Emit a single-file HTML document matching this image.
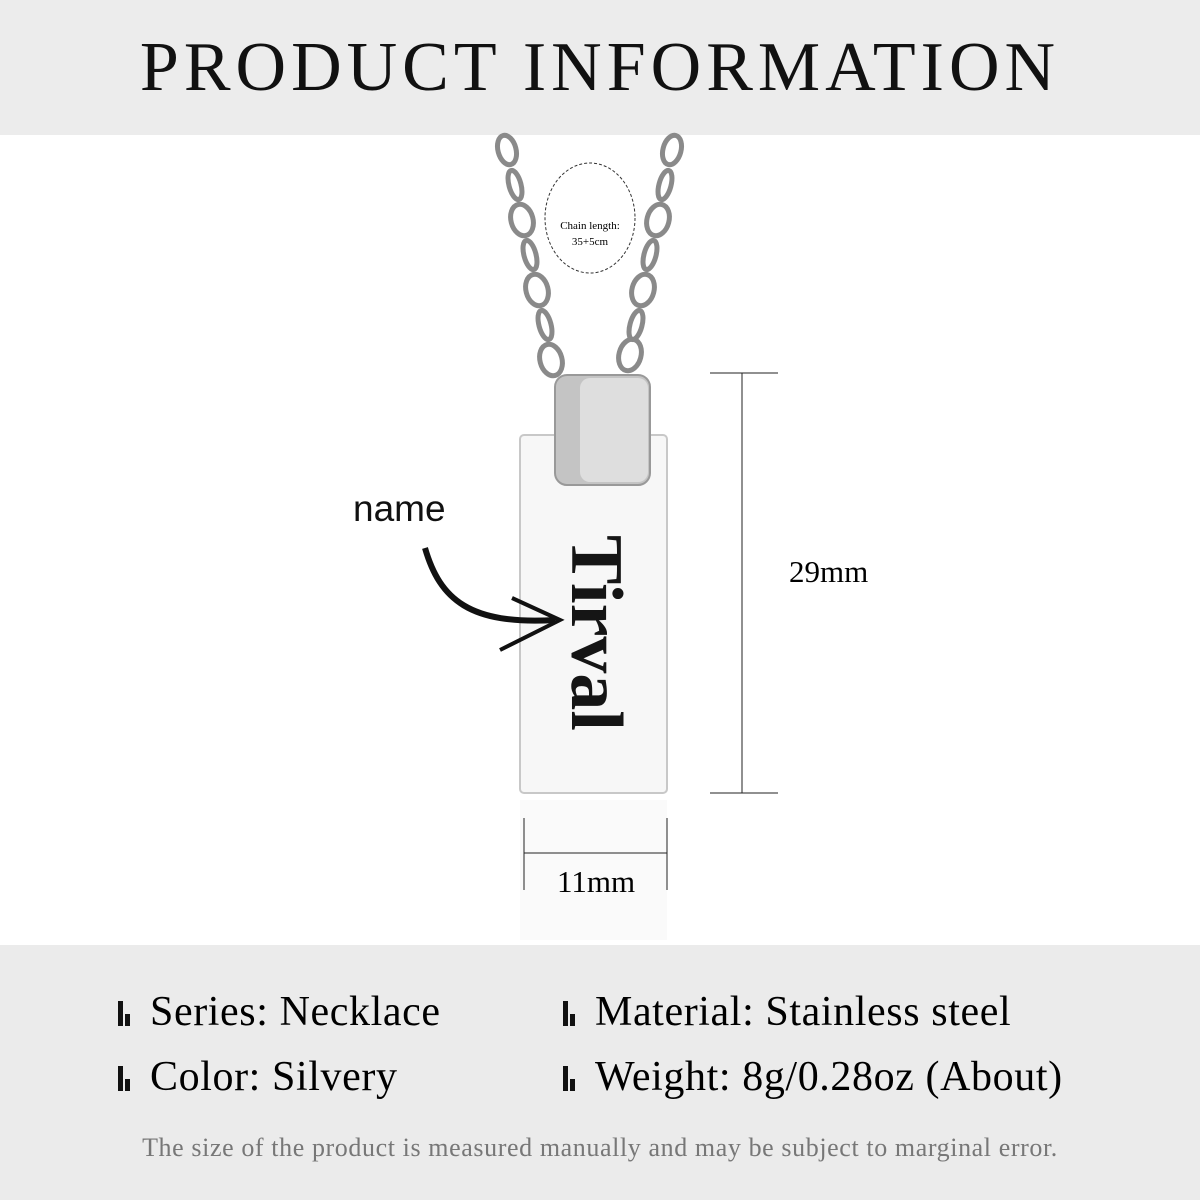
<!DOCTYPE html>
<html><head><style>
body{margin:0;width:1200px;height:1200px;background:#fff;position:relative;overflow:hidden;font-family:"Liberation Serif",serif;}
.t{position:absolute;white-space:nowrap;}
</style></head><body>
<div style="position:absolute;left:0;top:0;width:1200px;height:135px;background:#ececec"></div>
<div class="t" style="left:0;width:1200px;text-align:center;top:28px;font-size:70px;letter-spacing:5px;color:#111">PRODUCT INFORMATION</div>
<div style="position:absolute;left:0;top:945px;width:1200px;height:255px;background:#ebebeb"></div>
<svg width="1200" height="1200" style="position:absolute;left:0;top:0">
<g fill="none" stroke="#8a8a8a" stroke-width="5">
<ellipse cx="507" cy="150" rx="9" ry="15" transform="rotate(-15 507 150)"/>
<ellipse cx="515" cy="185" rx="6" ry="15" transform="rotate(-15 515 185)"/>
<ellipse cx="522" cy="220" rx="11" ry="16" transform="rotate(-15 522 220)"/>
<ellipse cx="530" cy="255" rx="6" ry="15" transform="rotate(-15 530 255)"/>
<ellipse cx="537" cy="290" rx="11" ry="16" transform="rotate(-15 537 290)"/>
<ellipse cx="545" cy="325" rx="6" ry="15" transform="rotate(-15 545 325)"/>
<ellipse cx="551" cy="360" rx="11" ry="16" transform="rotate(-15 551 360)"/>
<ellipse cx="672" cy="150" rx="9" ry="15" transform="rotate(15 672 150)"/>
<ellipse cx="665" cy="185" rx="6" ry="15" transform="rotate(15 665 185)"/>
<ellipse cx="658" cy="220" rx="11" ry="16" transform="rotate(15 658 220)"/>
<ellipse cx="650" cy="255" rx="6" ry="15" transform="rotate(15 650 255)"/>
<ellipse cx="643" cy="290" rx="11" ry="16" transform="rotate(15 643 290)"/>
<ellipse cx="636" cy="325" rx="6" ry="15" transform="rotate(15 636 325)"/>
<ellipse cx="630" cy="355" rx="11" ry="16" transform="rotate(15 630 355)"/>
</g>
<ellipse cx="590" cy="218" rx="45" ry="55" fill="#fff" stroke="#333" stroke-dasharray="3 2"/>
<text x="590" y="229" font-size="11" text-anchor="middle" font-family="Liberation Serif">Chain length:</text>
<text x="590" y="245" font-size="11" text-anchor="middle" font-family="Liberation Serif">35+5cm</text>
<rect x="520" y="435" width="147" height="358" rx="4" fill="#f7f7f7" stroke="#c8c8c8" stroke-width="2"/>
<rect x="555" y="375" width="95" height="110" rx="12" fill="#c4c4c4" stroke="#999" stroke-width="2"/>
<rect x="580" y="378" width="68" height="104" rx="10" fill="#dedede"/>
<text transform="translate(572,535) rotate(90)" font-size="74" font-weight="bold" font-family="Liberation Serif" fill="#151515">Tirval</text>
<rect x="520" y="800" width="147" height="140" fill="#fafafa"/>
<g stroke="#222" stroke-width="1">
<line x1="742" y1="373" x2="742" y2="793"/>
<line x1="710" y1="373" x2="778" y2="373"/>
<line x1="710" y1="793" x2="778" y2="793"/>
<line x1="524" y1="818" x2="524" y2="890"/>
<line x1="667" y1="818" x2="667" y2="890"/>
<line x1="524" y1="853" x2="667" y2="853"/>
</g>
<path d="M425 548 C440 600 470 625 555 620" fill="none" stroke="#111" stroke-width="6"/>
<path d="M512 598 L560 620 L500 650" fill="none" stroke="#111" stroke-width="4"/>
<g fill="#111">
<rect x="118" y="1001" width="5" height="25"/><rect x="125" y="1014" width="5" height="12"/>
<rect x="118" y="1066" width="5" height="25"/><rect x="125" y="1079" width="5" height="12"/>
<rect x="563" y="1001" width="5" height="25"/><rect x="570" y="1014" width="5" height="12"/>
<rect x="563" y="1066" width="5" height="25"/><rect x="570" y="1079" width="5" height="12"/>
</g>
</svg>
<div class="t" style="left:353px;top:488px;font-family:'Liberation Sans',sans-serif;font-size:37px;color:#111">name</div>
<div class="t" style="left:789px;top:554px;font-size:31px">29mm</div>
<div class="t" style="left:557px;top:864px;font-size:31px">11mm</div>
<div class="t" style="left:150px;top:988px;font-size:42px;letter-spacing:0.6px">Series: Necklace</div>
<div class="t" style="left:150px;top:1053px;font-size:42px;letter-spacing:0.6px">Color: Silvery</div>
<div class="t" style="left:595px;top:988px;font-size:42px;letter-spacing:0.6px">Material: Stainless steel</div>
<div class="t" style="left:595px;top:1053px;font-size:42px;letter-spacing:0.6px">Weight: 8g/0.28oz (About)</div>
<div class="t" style="left:0;width:1200px;text-align:center;top:1133px;font-size:26px;letter-spacing:0.6px;color:#777">The size of the product is measured manually and may be subject to marginal error.</div>
</body></html>
